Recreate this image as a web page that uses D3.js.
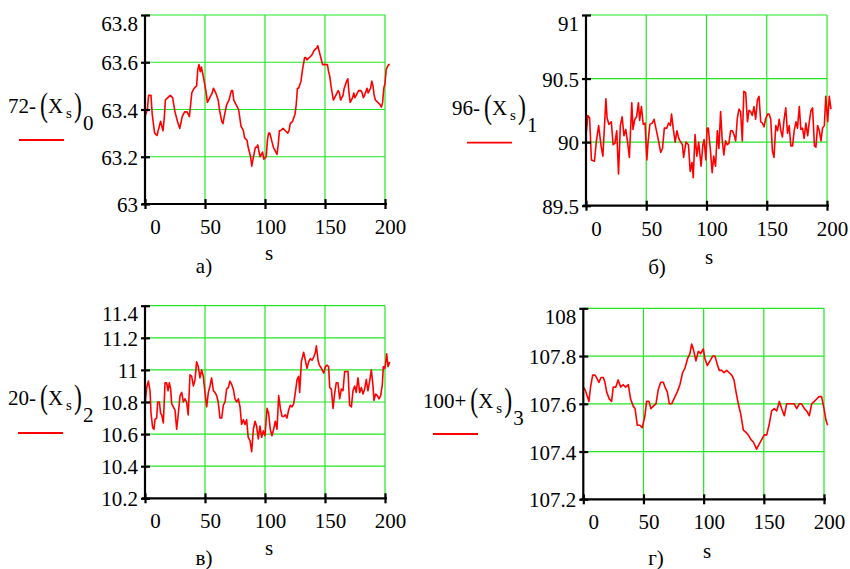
<!DOCTYPE html>
<html><head><meta charset="utf-8">
<script src="https://cdn.jsdelivr.net/npm/d3@7"></script>
<style>
body{margin:0;background:#fff;}
</style></head>
<body><svg id="c" width="850" height="569"></svg>
<script>
// ---------- data ----------
const xTicks = [0, 50, 100, 150, 200];
const yTicksA = [63, 63.2, 63.4, 63.6, 63.8];
const yTicksB = [89.5, 90, 90.5, 91];
const yTicksC = [10.2, 10.4, 10.6, 10.8, 11, 11.2, 11.4];
const yTicksD = [107.2, 107.4, 107.6, 107.8, 108];
const yLabelsA = ["63", "63.2", "63.4", "63.6", "63.8"];
const yLabelsB = ["89.5", "90", "90.5", "91"];
const yLabelsC = ["10.2", "10.4", "10.6", "10.8", "11", "11.2", "11.4"];
const yLabelsD = ["107.2", "107.4", "107.6", "107.8", "108"];
const prefixes = ["72-", "96-", "20-", "100+"];
const subscripts = ["0", "1", "2", "3"];
const captions = ["а)", "б)", "в)", "г)"];

const sA = [0,2,3,5,6,8,10,12,13,15,16,17,19,21,23,24,25,27,29,31,33,35,37,38,39,41,43,44,45,46,47,49,51,52,54,56,57,59,61,62,64,65,66,68,70,72,73,74,76,78,80,82,83,85,86,88,89,90,92,93,94,95,96,98,99,101,102,103,104,106,107,108,110,111,112,113,115,117,119,120,121,123,125,126,127,128,130,131,133,134,135,137,139,141,143,144,145,147,148,150,152,153,154,155,157,159,161,162,163,165,166,168,169,170,171,173,174,175,176,178,180,181,182,183,185,186,188,189,190,191,192,194,196,197,198,199,200,201,202,203,204];
const vA = [63.37,63.40,63.46,63.46,63.38,63.30,63.29,63.33,63.35,63.31,63.36,63.44,63.45,63.46,63.45,63.42,63.39,63.35,63.32,63.37,63.39,63.39,63.37,63.42,63.47,63.49,63.50,63.57,63.59,63.56,63.58,63.53,63.47,63.43,63.45,63.47,63.49,63.47,63.44,63.40,63.35,63.34,63.37,63.42,63.44,63.48,63.48,63.44,63.42,63.40,63.33,63.31,63.28,63.27,63.24,63.20,63.16,63.19,63.24,63.24,63.25,63.22,63.20,63.22,63.19,63.20,63.27,63.30,63.30,63.26,63.24,63.23,63.21,63.25,63.31,63.31,63.32,63.31,63.30,63.31,63.34,63.35,63.38,63.42,63.49,63.49,63.52,63.56,63.62,63.62,63.61,63.62,63.63,63.65,63.66,63.67,63.65,63.61,63.59,63.59,63.59,63.56,63.54,63.50,63.44,63.46,63.48,63.47,63.44,63.46,63.49,63.52,63.53,63.47,63.43,63.45,63.47,63.45,63.46,63.48,63.48,63.47,63.45,63.46,63.49,63.47,63.49,63.52,63.50,63.46,63.44,63.43,63.42,63.41,63.43,63.49,63.51,63.57,63.58,63.59,63.59];

const sB = [0,1.5,3,4.5,7,8.5,10.5,12.5,14,16.5,17.5,19,21,22.5,24,25.5,27,28.5,30,31.5,33,34.5,36,38,39,40.5,42,43.5,44.5,46,47.5,49,50.5,51.5,53,55,56.5,58,60,62,63.5,65,67,68.5,70,71,72.5,74,75.5,77,78,80,81,83,85,86.5,88,89,90.5,92,93.5,95.5,97,98,99.5,100.5,101.5,103.3,104.7,106,107.5,109,110.3,111.7,113,114.4,115.8,117.2,118.6,120,121.4,122.8,124.2,125.6,127,128.3,129.7,131,132.5,134,135.3,136.7,138,139.4,140.8,142.2,143.6,145,146.4,147.8,149,150.6,152,153.3,154.7,156,157.5,159,160.3,161.7,163,164.4,165.8,167.2,168.6,170,171.4,172.8,174.2,175.5,177,178.3,179.7,181,182.5,184,185.3,186.7,188,189.6,190.8,192.2,193.6,195,196.3,197.8,199,200.6,201.9,203.3];
const vB = [90.05,90.21,90.19,89.86,89.85,90.0,90.13,89.97,89.89,90.34,90.19,90.14,90.16,89.98,89.99,90.09,89.75,90.13,90.2,90.05,90.1,90.0,89.88,90.31,90.1,90.18,90.2,90.31,90.17,90.28,90.14,90.15,89.86,90.0,90.14,90.15,90.18,90.11,90.02,89.92,89.95,90.11,90.11,90.15,90.13,90.22,90.1,90.0,90.09,90.03,90.01,89.98,89.88,90.0,89.98,89.77,89.84,89.72,90.06,89.89,90.0,89.81,89.98,90.02,89.86,90.11,90.11,89.93,89.76,89.89,89.81,90.09,89.95,90.24,90.02,89.9,90.01,89.98,89.99,90.09,90.09,90.06,90.01,90.19,90.26,90.24,90.01,90.40,90.39,90.16,90.25,90.24,90.21,90.28,90.18,90.33,90.36,90.16,90.15,90.12,90.18,90.22,90.22,90.18,89.93,89.88,90.13,90.09,90.18,90.09,90.04,90.18,90.27,90.07,90.13,89.97,89.97,90.09,90.16,90.11,90.28,90.10,90.11,90.03,90.15,90.05,90.16,90.25,90.27,89.97,89.96,90.13,90.09,90.01,90.11,90.13,90.36,90.16,90.36,90.26];

const sC = [0,1.4,2.8,4.2,5,6.4,7.5,8.3,9.7,10.6,12,13,13.9,15.3,16.7,18,19.2,20.3,21.4,22.2,23.6,25,26.4,27.8,29.2,30.6,32,33.3,34.7,36,37.5,38.9,40.3,41.7,43,44.4,45.8,47.2,48.6,50,51.4,52.8,54.2,55.5,57,58.3,59.7,61,62.5,63.9,65.3,66.7,68,69.4,70.8,72.2,73.6,75,76.4,77.8,79.2,80.5,82,83.3,84.7,86,87.5,88.9,90.3,91.7,93,94.4,95.8,97.2,98.6,100,101.7,103,104.4,105.8,107.2,108.6,110,111.4,112.8,114.2,115.6,117,118.3,119.7,121.1,122.5,123.9,125.3,126.7,128,128.9,130.3,132.2,133.6,135,136.4,137.8,139.2,140.6,142,142.8,144.2,145.3,147,149,150.3,151.7,153,153.9,155.3,156.7,158,159.4,160.8,162.2,163.6,165,166.4,167.8,169.2,170.5,172,173.3,174.7,176,177.5,178.9,180.3,181.7,183,184.4,185.8,187.2,188.6,190,190.8,192.2,193.6,195,196.4,197.8,198.6,200,201.4,202.5,203.9];
const vC = [10.78,10.89,10.93,10.87,10.73,10.64,10.63,10.69,10.70,10.80,10.80,10.73,10.72,10.67,10.92,10.92,10.87,10.92,10.88,10.79,10.77,10.75,10.63,10.73,10.84,10.86,10.80,10.82,10.80,10.72,10.97,10.96,10.90,10.94,11.05,11.02,10.95,11.0,10.96,10.86,10.77,10.86,10.90,10.95,10.87,10.86,10.84,10.80,10.70,10.70,10.78,10.80,10.88,10.89,10.93,10.91,10.88,10.82,10.80,10.82,10.77,10.66,10.69,10.66,10.69,10.58,10.56,10.49,10.63,10.68,10.65,10.57,10.65,10.58,10.62,10.59,10.76,10.73,10.63,10.59,10.63,10.68,10.63,10.84,10.76,10.71,10.71,10.72,10.70,10.75,10.78,10.77,10.79,10.86,10.94,10.96,10.86,11.05,11.11,11.06,11.01,11.05,11.07,11.06,11.08,11.11,11.15,11.06,11.03,11.01,10.98,11.02,11.03,11.02,10.89,10.88,10.76,10.85,10.92,10.92,10.82,10.88,10.87,10.99,10.99,10.99,10.78,10.77,10.87,10.90,10.86,10.95,10.86,10.89,10.85,10.88,10.94,10.87,10.93,11.0,10.90,10.81,10.85,10.84,10.82,10.84,10.91,11.02,11.01,11.10,11.02,11.05];

const sD = [0,1.4,2.8,4.7,6,7.8,9.7,11,13,14.7,16.6,18,19.4,21.6,23.5,24.9,27,29,31,33.2,35.2,37.4,39.3,41.5,43,44.9,47,49,51.2,52.6,54.6,56.2,58.2,60.4,62.3,64.3,66.5,67.9,69.8,71.5,73.4,76.2,78.1,80.3,82.5,84.5,86.7,88.6,90,91.4,93.6,95.6,97.5,99.7,101,103,105.3,107.5,109.4,111.6,113,115,116.9,119.1,121.3,123.3,125.2,126.9,128.8,130.7,133,135.2,137.1,139.3,141.3,144,146,148.2,150.4,152.4,154.3,156.5,158.7,160.7,162.9,164.8,167,169,171.2,173.1,175.3,177.3,179.5,181.4,183.7,185.6,187.8,189.8,192,193.9,195.8,198,200,201.7,203];
const vD = [107.67,107.66,107.64,107.61,107.67,107.72,107.72,107.71,107.69,107.71,107.71,107.69,107.65,107.62,107.61,107.67,107.67,107.70,107.67,107.68,107.67,107.68,107.62,107.59,107.58,107.51,107.51,107.50,107.55,107.61,107.61,107.58,107.59,107.60,107.66,107.69,107.69,107.67,107.65,107.60,107.60,107.63,107.65,107.68,107.73,107.75,107.79,107.81,107.85,107.83,107.78,107.82,107.81,107.83,107.79,107.76,107.78,107.80,107.80,107.76,107.74,107.74,107.73,107.74,107.73,107.72,107.70,107.65,107.60,107.56,107.49,107.48,107.47,107.45,107.44,107.41,107.43,107.45,107.47,107.47,107.51,107.57,107.58,107.57,107.61,107.58,107.55,107.60,107.60,107.60,107.60,107.58,107.60,107.60,107.58,107.57,107.55,107.60,107.61,107.62,107.63,107.63,107.58,107.53,107.51];

// ---------- drawing ----------
const FONT = "'Liberation Serif', 'Times New Roman', Times, 'DejaVu Serif', 'Noto Serif', serif";
const FS = 21;
const svg = d3.select("#c");
const GRID = "#22e822";
const RED = "#ff0000";

const panels = [
  {s:sA, v:vA, yt:yTicksA, yl:yLabelsA, x0:145, x1:385, yTop:15, yBot:204,
   title:{x:8, y:113}, legend:{x1:19, x2:64, y:140}, sLab:{x:269, y:260}, cap:{x:204, y:273}},
  {s:sB, v:vB, yt:yTicksB, yl:yLabelsB, x0:586, x1:827, yTop:15, yBot:205.7,
   title:{x:452, y:115}, legend:{x1:467, x2:512, y:142.7}, sLab:{x:709, y:264}, cap:{x:657, y:274}},
  {s:sC, v:vC, yt:yTicksC, yl:yLabelsC, x0:145, x1:385, yTop:305.7, yBot:498.3,
   title:{x:8, y:405}, legend:{x1:18, x2:63, y:433}, sLab:{x:269, y:555}, cap:{x:204, y:565}},
  {s:sD, v:vD, yt:yTicksD, yl:yLabelsD, x0:583.3, x1:824, yTop:308.3, yBot:499.3,
   title:{x:423, y:408}, legend:{x1:433, x2:478, y:434}, sLab:{x:707, y:558}, cap:{x:656, y:565}}
];

function txt(g, x, y, size, s) {
  return g.append("text").attr("x", x).attr("y", y)
    .style("font-family", FONT).style("font-size", size + "px").attr("fill", "#000").text(s);
}

panels.forEach((p, i) => {
  const x = d3.scaleLinear().domain([0, 200]).range([p.x0, p.x1]);
  const y = d3.scaleLinear().domain([p.yt[0], p.yt[p.yt.length-1]]).range([p.yBot, p.yTop]);
  const g = svg.append("g");

  // grid
  g.selectAll(".gv").data(xTicks.filter(t => t > 0)).enter().append("line")
    .attr("x1", d => x(d)).attr("x2", d => x(d)).attr("y1", p.yTop).attr("y2", p.yBot)
    .attr("stroke", GRID).attr("stroke-width", 1.2);
  g.selectAll(".gh").data(p.yt.slice(1)).enter().append("line")
    .attr("x1", p.x0).attr("x2", p.x1).attr("y1", d => y(d)).attr("y2", d => y(d))
    .attr("stroke", GRID).attr("stroke-width", 1.2);

  // data line
  const pts = p.s.map((s, k) => [s, p.v[k]]);
  g.append("path").datum(pts)
    .attr("d", d3.line().x(d => x(d[0])).y(d => y(d[1])))
    .attr("fill", "none").attr("stroke", RED).attr("stroke-width", 1.6)
    .attr("stroke-linejoin", "round");

  // y axis
  const ya = g.append("g").attr("transform", `translate(${p.x0},0)`)
    .call(d3.axisLeft(y).tickValues(p.yt).tickFormat((d, k) => p.yl[k]).tickSizeOuter(0).tickPadding(8));
  ya.select(".domain").attr("stroke", "#000").attr("stroke-width", 2.2)
    .attr("d", `M0,${p.yTop}V${p.yBot}`);
  ya.selectAll(".tick line").attr("x1", 5).attr("x2", -4).attr("stroke", "#000").attr("stroke-width", 2.2);
  ya.selectAll(".tick text").style("font-size", FS + "px").style("font-family", FONT)
    .attr("fill", "#000").attr("dy", (d, k) => k === p.yt.length - 1 ? "15px" : "7.5px").attr("x", -7);

  // x axis
  const xa = g.append("g").attr("transform", `translate(0,${p.yBot})`)
    .call(d3.axisBottom(x).tickValues(xTicks).tickSizeOuter(0));
  xa.select(".domain").attr("stroke", "#000").attr("stroke-width", 2.2)
    .attr("d", `M${p.x0 - 3},0H${p.x1 + 2}`);
  xa.selectAll(".tick line").attr("y1", -5).attr("y2", 5).attr("stroke", "#000").attr("stroke-width", 2.2);
  xa.selectAll(".tick text").style("font-size", FS + "px").style("font-family", FONT)
    .attr("fill", "#000").attr("dy", 0).attr("y", 30)
    .attr("x", d => d === 0 ? 10 : 5);

  // axis variable label and caption
  txt(g, p.sLab.x, p.sLab.y, FS, "s").attr("text-anchor", "middle");
  txt(g, p.cap.x, p.cap.y, FS, captions[i]).attr("text-anchor", "middle");

  // y title: prefix (X_s)_k
  const pre = txt(g, p.title.x, p.title.y, FS, prefixes[i]);
  const e = p.title.x + pre.node().getComputedTextLength();
  txt(g, e + 4, p.title.y + 3, 34, "(")
    .attr("transform", `translate(${e + 4},0) scale(0.7,1) translate(${-(e + 4)},0)`);
  txt(g, e + 12, p.title.y, FS, "X");
  txt(g, e + 30, p.title.y + 5, 15, "s");
  txt(g, e + 38, p.title.y + 3, 34, ")")
    .attr("transform", `translate(${e + 38},0) scale(0.7,1) translate(${-(e + 38)},0)`);
  txt(g, e + 47, p.title.y + 17, FS, subscripts[i]);

  // legend line
  g.append("line").attr("x1", p.legend.x1).attr("x2", p.legend.x2).attr("y1", p.legend.y).attr("y2", p.legend.y)
    .attr("stroke", RED).attr("stroke-width", 1.8);
});
</script></body></html>
